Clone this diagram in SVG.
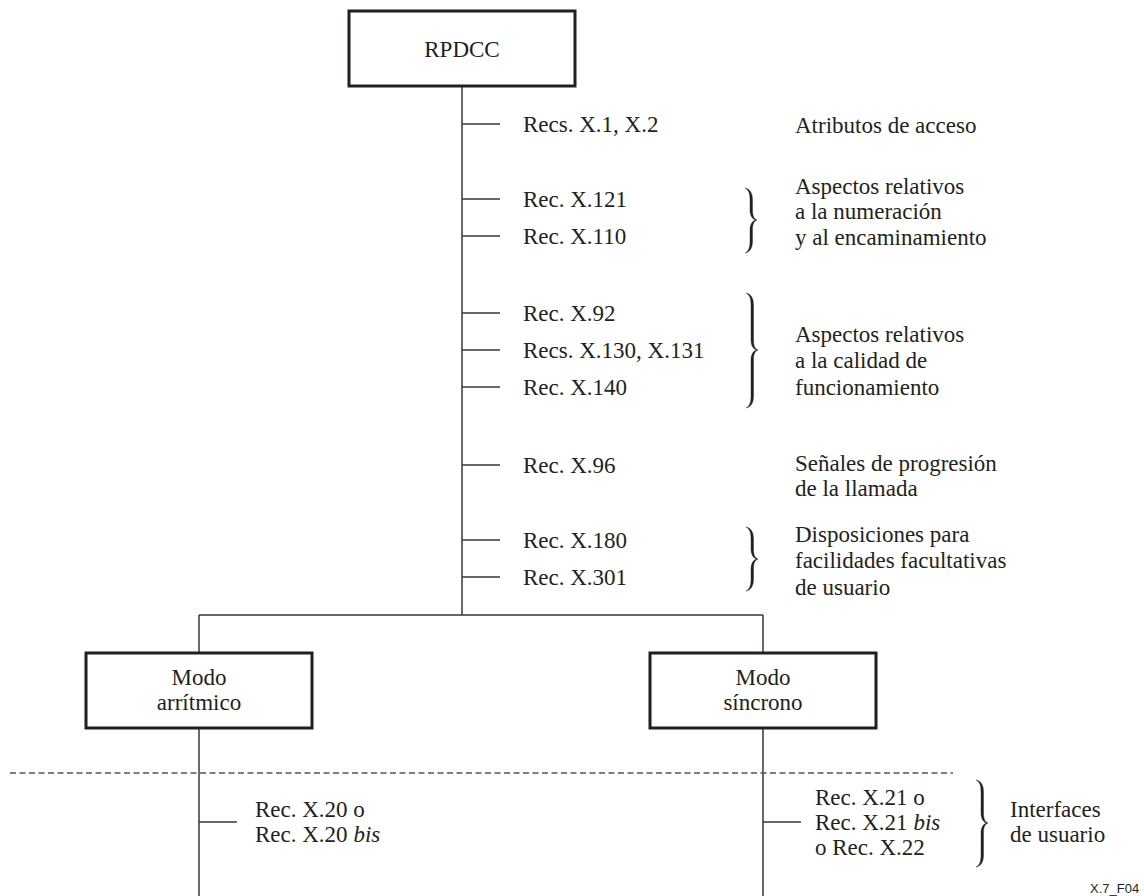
<svg xmlns="http://www.w3.org/2000/svg" width="1144" height="896" viewBox="0 0 1144 896">
<style>
.t{font-family:"Liberation Serif","Times New Roman",serif;font-size:23px;fill:#231f20}
.c{text-anchor:middle}
.box{fill:#fff;stroke:#231f20;stroke-width:3}
.ln{fill:none;stroke:#3a3637;stroke-width:1.5}
.br{fill:#231f20;stroke:#231f20;stroke-width:0.4}
.dash{fill:none;stroke:#555;stroke-width:1.5;stroke-dasharray:6 3.5}
.id{font-family:"Liberation Sans",Arial,sans-serif;font-size:13px;fill:#231f20}
</style>
<g id="connectors">
<line class="ln" x1="462" y1="86" x2="462" y2="615"/>
<line class="ln" x1="199" y1="615" x2="763" y2="615"/>
<line class="ln" x1="199" y1="615" x2="199" y2="653"/>
<line class="ln" x1="763" y1="615" x2="763" y2="653"/>
<line class="ln" x1="199" y1="728" x2="199" y2="896"/>
<line class="ln" x1="763" y1="728" x2="763" y2="896"/>
<line class="ln" x1="462" y1="124" x2="500" y2="124"/>
<line class="ln" x1="462" y1="199" x2="500" y2="199"/>
<line class="ln" x1="462" y1="236" x2="500" y2="236"/>
<line class="ln" x1="462" y1="313" x2="500" y2="313"/>
<line class="ln" x1="462" y1="350" x2="500" y2="350"/>
<line class="ln" x1="462" y1="387" x2="500" y2="387"/>
<line class="ln" x1="462" y1="465" x2="500" y2="465"/>
<line class="ln" x1="462" y1="540" x2="500" y2="540"/>
<line class="ln" x1="462" y1="577" x2="500" y2="577"/>
<line class="ln" x1="199" y1="822" x2="237" y2="822"/>
<line class="ln" x1="763" y1="822" x2="801" y2="822"/>
<line class="dash" x1="10" y1="773" x2="953" y2="773"/>
</g>
<g id="node-rpdcc">
<rect class="box" x="349" y="11" width="226" height="75"/>
<text class="t c" x="462" y="57">RPDCC</text>
</g>
<g id="node-arritmico">
<rect class="box" x="86" y="653" width="226" height="75"/>
<text class="t c" x="199" y="685">Modo</text>
<text class="t c" x="199" y="710">arrítmico</text>
</g>
<g id="node-sincrono">
<rect class="box" x="650" y="653" width="226" height="75"/>
<text class="t c" x="763" y="685">Modo</text>
<text class="t c" x="763" y="710">síncrono</text>
</g>
<g id="recs">
<text class="t" x="523" y="132">Recs. X.1, X.2</text>
<text class="t" x="523" y="207">Rec. X.121</text>
<text class="t" x="523" y="244">Rec. X.110</text>
<text class="t" x="523" y="321">Rec. X.92</text>
<text class="t" x="523" y="358">Recs. X.130, X.131</text>
<text class="t" x="523" y="395">Rec. X.140</text>
<text class="t" x="523" y="473">Rec. X.96</text>
<text class="t" x="523" y="548">Rec. X.180</text>
<text class="t" x="523" y="585">Rec. X.301</text>
<text class="t" x="255" y="817">Rec. X.20 o</text>
<text class="t" x="255" y="842">Rec. X.20 <tspan font-style="italic">bis</tspan></text>
<text class="t" x="815" y="805">Rec. X.21 o</text>
<text class="t" x="815" y="830">Rec. X.21 <tspan font-style="italic">bis</tspan></text>
<text class="t" x="815" y="855">o Rec. X.22</text>
</g>
<g id="braces">
<path class="br" d="M745,188 C750,189 752.5,193 752.5,200 L752.5,210 C752.5,216 754,219 757,220 C754,221 752.5,224 752.5,230 L752.5,241 C752.5,248 750,252 745,253 C749,251 750,247 750,241 L750,230 C750,225 752,221 755.5,220 C752,219 750,215 750,210 L750,200 C750,194 749,190 745,188 Z"/>
<path class="br" d="M746,293 C751,294 753.5,298 753.5,305 L753.5,340 C753.5,346 755,349 758,350 C755,351 753.5,354 753.5,360 L753.5,396 C753.5,403 751,407 746,408 C750,406 751,402 751,396 L751,360 C751,355 753,351 756.5,350 C753,349 751,345 751,340 L751,305 C751,299 750,295 746,293 Z"/>
<path class="br" d="M746,527 C751,528 753.5,532 753.5,539 L753.5,549 C753.5,555 755,558 758,559 C755,560 753.5,563 753.5,569 L753.5,579 C753.5,586 751,590 746,591 C750,589 751,585 751,579 L751,569 C751,564 753,560 756.5,559 C753,558 751,554 751,549 L751,539 C751,533 750,529 746,527 Z"/>
<path class="br" d="M976,780 C981,781 983.5,785 983.5,792 L983.5,813 C983.5,819 985,822 988,823 C985,824 983.5,827 983.5,833 L983.5,855 C983.5,862 981,866 976,867 C980,865 981,861 981,855 L981,833 C981,828 983,824 986.5,823 C983,822 981,818 981,813 L981,792 C981,786 980,782 976,780 Z"/>
</g>
<g id="labels">
<text class="t" x="795" y="133">Atributos de acceso</text>
<text class="t" x="795" y="194">Aspectos relativos</text>
<text class="t" x="795" y="219">a la numeración</text>
<text class="t" x="795" y="245">y al encaminamiento</text>
<text class="t" x="795" y="342">Aspectos relativos</text>
<text class="t" x="795" y="368">a la calidad de</text>
<text class="t" x="795" y="395">funcionamiento</text>
<text class="t" x="795" y="471">Señales de progresión</text>
<text class="t" x="795" y="496">de la llamada</text>
<text class="t" x="795" y="542">Disposiciones para</text>
<text class="t" x="795" y="568">facilidades facultativas</text>
<text class="t" x="795" y="595">de usuario</text>
<text class="t" x="1010" y="817">Interfaces</text>
<text class="t" x="1010" y="842">de usuario</text>
<text class="id" x="1090" y="893">X.7_F04</text>
</g>
</svg>
